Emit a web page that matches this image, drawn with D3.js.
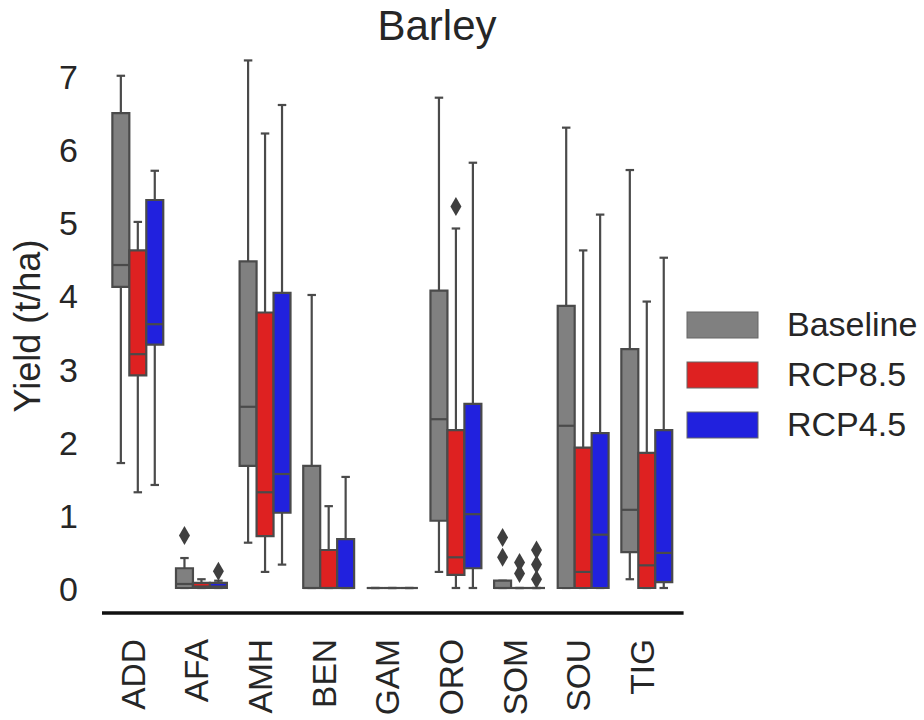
<!DOCTYPE html>
<html>
<head>
<meta charset="utf-8">
<script src="https://cdn.jsdelivr.net/npm/d3@7"></script>
<style>
  html, body { margin: 0; padding: 0; background: #ffffff; }
  svg { display: block; }
  text { font-family: "Liberation Sans", Arial, Helvetica, sans-serif; fill: #262626; }
</style>
</head>
<body>
<svg id="chart" width="924" height="720"></svg>
<script>
// ---- data ----
const categories = ["ADD", "AFA", "AMH", "BEN", "GAM", "ORO", "SOM", "SOU", "TIG"];
const scenarios = ["Baseline", "RCP8.5", "RCP4.5"];
const yTicks = [0, 1, 2, 3, 4, 5, 6, 7];

// [lower whisker, Q1, median, Q3, upper whisker] per category, per scenario
const baselineStats = [
  [1.71, 4.12, 4.42, 6.50, 7.01],
  [0.00, 0.00, 0.055, 0.27, 0.41],
  [0.62, 1.67, 2.48, 4.47, 7.22],
  [0.00, 0.00, 0.00, 1.67, 4.01],
  [0.00, 0.00, 0.00, 0.00, 0.00],
  [0.22, 0.92, 2.31, 4.07, 6.71],
  [0.00, 0.00, 0.00, 0.10, 0.10],
  [0.00, 0.00, 2.22, 3.86, 6.30],
  [0.12, 0.49, 1.07, 3.27, 5.72]
];
const rcp85Stats = [
  [1.31, 2.91, 3.20, 4.62, 5.01],
  [0.00, 0.00, 0.02, 0.07, 0.12],
  [0.22, 0.71, 1.31, 3.77, 6.22],
  [0.00, 0.00, 0.00, 0.52, 1.12],
  [0.00, 0.00, 0.00, 0.00, 0.00],
  [0.00, 0.18, 0.42, 2.16, 4.92],
  [0.00, 0.00, 0.00, 0.00, 0.00],
  [0.00, 0.00, 0.22, 1.92, 4.62],
  [0.00, 0.00, 0.31, 1.85, 3.92]
];
const rcp45Stats = [
  [1.41, 3.33, 3.61, 5.31, 5.71],
  [0.00, 0.00, 0.02, 0.07, 0.10],
  [0.32, 1.03, 1.56, 4.04, 6.61],
  [0.00, 0.00, 0.00, 0.67, 1.52],
  [0.00, 0.00, 0.00, 0.00, 0.00],
  [0.00, 0.27, 1.01, 2.52, 5.82],
  [0.00, 0.00, 0.00, 0.00, 0.00],
  [0.00, 0.00, 0.73, 2.12, 5.11],
  [0.00, 0.08, 0.48, 2.16, 4.52]
];
// outliers per category, per scenario
const baselineOutliers = [[], [0.72], [], [], [], [], [0.42, 0.69], [], []];
const rcp85Outliers    = [[], [], [], [], [], [5.22], [0.20, 0.35], [], []];
const rcp45Outliers    = [[], [0.23], [], [], [], [], [0.12, 0.32, 0.52], [], []];

const scenarioColors = ["#808080", "#DE2121", "#2121DE"];

// ---- build table ----
const statsBy = [baselineStats, rcp85Stats, rcp45Stats];
const outBy = [baselineOutliers, rcp85Outliers, rcp45Outliers];
const boxes = [];
categories.forEach((c, i) => {
  scenarios.forEach((s, j) => {
    const st = statsBy[j][i];
    boxes.push({cat: c, scen: s, lo: st[0], q1: st[1], med: st[2], q3: st[3], hi: st[4], out: outBy[j][i], color: scenarioColors[j]});
  });
});

// ---- layout ----
const svg = d3.select("#chart");
const lineColor = "#4a4a4a";
const lw = 2.2;

const x = d3.scaleBand().domain(categories).range([106, 678.6]).padding(0);
const groupW = x.bandwidth() * 0.8;
const xs = d3.scaleBand().domain(scenarios).range([0, groupW]).padding(0);
const y = d3.scaleLinear().domain([0, 7]).range([588, 76.5]);

const bx = d => x(d.cat) + (x.bandwidth() - groupW) / 2 + xs(d.scen);
const bw = xs.bandwidth();

// title
svg.append("text")
  .attr("x", 437).attr("y", 40)
  .attr("text-anchor", "middle")
  .attr("font-size", 42)
  .text("Barley");

// y axis (labels only)
const yAxis = svg.append("g")
  .attr("transform", "translate(78,0)")
  .call(d3.axisLeft(y).tickValues(yTicks).tickSize(0).tickPadding(0).tickFormat(d3.format("d")));
yAxis.select(".domain").remove();
yAxis.selectAll("text")
  .attr("font-size", 34)
  .attr("font-family", "Liberation Sans, Arial, sans-serif")
  .attr("fill", "#262626")
  .attr("dy", "0.36em");

// y label
svg.append("text")
  .attr("transform", "translate(40,326) rotate(-90)")
  .attr("text-anchor", "middle")
  .attr("font-size", 36)
  .text("Yield (t/ha)");

// x axis line
svg.append("line")
  .attr("x1", x.range()[0] - 4).attr("x2", x.range()[1] + 5)
  .attr("y1", 613).attr("y2", 613)
  .attr("stroke", "#111111").attr("stroke-width", 3.5);

// x tick labels
svg.append("g").selectAll("text")
  .data(categories)
  .join("text")
  .attr("transform", d => `translate(${x(d) + x.bandwidth() / 2 + 7},639) rotate(-90)`)
  .attr("text-anchor", "end")
  .attr("font-size", 33.5)
  .text(d => d);

// boxes
const g = svg.append("g");
const bg = g.selectAll("g.box").data(boxes).join("g").attr("class", "box");

// whiskers
bg.append("line")
  .attr("x1", d => bx(d) + bw / 2).attr("x2", d => bx(d) + bw / 2)
  .attr("y1", d => y(d.q3)).attr("y2", d => y(d.hi))
  .attr("stroke", lineColor).attr("stroke-width", lw);
bg.append("line")
  .attr("x1", d => bx(d) + bw / 2).attr("x2", d => bx(d) + bw / 2)
  .attr("y1", d => y(d.q1)).attr("y2", d => y(d.lo))
  .attr("stroke", lineColor).attr("stroke-width", lw);
// caps
[ "hi", "lo" ].forEach(k => {
  bg.append("line")
    .attr("x1", d => bx(d) + bw / 4).attr("x2", d => bx(d) + bw * 3 / 4)
    .attr("y1", d => y(d[k])).attr("y2", d => y(d[k]))
    .attr("stroke", lineColor).attr("stroke-width", lw);
});
// box body (path so zero-height boxes still draw a line)
bg.append("path")
  .attr("d", d => `M${bx(d)},${y(d.q3)}H${bx(d) + bw}V${y(d.q1)}H${bx(d)}Z`)
  .attr("fill", d => d.color)
  .attr("stroke", lineColor).attr("stroke-width", lw)
  .attr("stroke-linejoin", "miter");
// median
bg.append("line")
  .attr("x1", d => bx(d)).attr("x2", d => bx(d) + bw)
  .attr("y1", d => y(d.med)).attr("y2", d => y(d.med))
  .attr("stroke", lineColor).attr("stroke-width", lw);
// outliers (diamonds)
const diamond = "M0,-9.5L5.5,0L0,9.5L-5.5,0Z";
bg.selectAll("path.out")
  .data(d => d.out.map(v => ({v, d})))
  .join("path")
  .attr("class", "out")
  .attr("transform", o => `translate(${bx(o.d) + bw / 2},${y(o.v)})`)
  .attr("d", diamond)
  .attr("fill", "#3f3f3f");

// legend
const lg = svg.append("g").selectAll("g").data(scenarios).join("g")
  .attr("transform", (d, i) => `translate(687,${312 + i * 50})`);
lg.append("rect")
  .attr("width", 71).attr("height", 26)
  .attr("fill", (d, i) => scenarioColors[i])
  .attr("stroke", "#666666").attr("stroke-width", 1);
lg.append("text")
  .attr("x", 100).attr("y", 24)
  .attr("font-size", 34)
  .text(d => d);
</script>
</body>
</html>
